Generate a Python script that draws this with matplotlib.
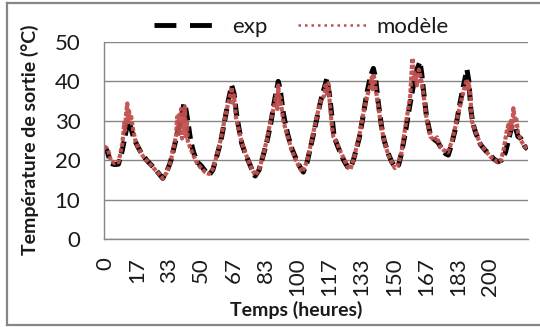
import matplotlib.pyplot as plt
from matplotlib.lines import Line2D

# --- Données ---
exp_t = [-0.5, 1, 3, 5, 7, 9, 11, 12, 13, 15, 17, 19, 22, 24, 26, 28, 30, 32, 34, 36,
         38, 40, 41, 42, 43, 44.5, 46, 48, 50, 52, 54, 56, 58, 60, 62, 64, 65.8, 67, 68.5, 70,
         71, 73, 75, 77, 78, 80, 82, 84, 86, 88, 90, 91, 92.6, 94, 95.2, 97, 99, 101, 103, 105,
         108, 110, 112, 114, 115.2, 116.5, 118, 119, 120.5, 122, 124, 126, 127.5, 129, 130, 132, 134, 136, 138, 139.4,
         140.5, 142, 143.5, 145, 147, 149, 151, 152.5, 154, 156, 158, 160, 162, 163.6, 164.5, 165.4, 167, 169,
         171, 173, 175, 177, 178.3, 180, 182, 184, 186, 188, 189, 190, 191, 192.5, 195, 197.5, 200, 202,
         204, 206, 208, 210, 211.5, 213, 214.5, 216, 218, 219.5]
exp_v = [23.4, 22.5, 19.2, 18.9, 19.0, 22.5, 27.5, 30.0, 29.0, 25.5, 23.5, 21.7, 19.8, 18.8, 17.8, 16.6, 15.4, 17.0, 19.5, 23.5,
         27.5, 31.5, 34.4, 33.0, 30.0, 25.0, 22.0, 19.5, 18.6, 17.3, 16.2, 17.5, 20.9, 24.5, 29.5, 35.0, 39.0, 37.0, 31.0, 27.0,
         24.3, 21.5, 19.2, 16.8, 16.0, 17.5, 20.9, 24.5, 29.0, 35.0, 40.0, 38.0, 32.0, 28.5, 26.0, 23.0, 20.6, 18.5, 17.0, 19.5,
         26.0, 30.5, 35.0, 38.5, 40.6, 37.0, 30.5, 26.0, 24.0, 22.2, 20.0, 18.3, 18.0, 20.0, 21.8, 25.5, 31.0, 37.0, 41.5, 43.3,
         41.0, 34.4, 29.0, 25.0, 21.8, 19.5, 18.2, 18.8, 21.8, 27.0, 33.0, 38.5, 43.0, 45.0, 42.0, 37.8, 31.0, 26.5,
         25.3, 24.5, 22.8, 21.6, 21.3, 24.0, 28.0, 33.5, 38.5, 43.0, 40.0, 33.0, 29.5, 27.0, 24.0, 22.5, 21.3, 20.3,
         19.6, 20.0, 22.0, 26.0, 29.0, 28.5, 26.0, 25.5, 23.5, 22.8]

mod_t = [-0.5, 1, 2, 3, 5, 7, 9, 10, 10.5, 11, 11.6, 12, 12.5, 13, 13.5, 14.5, 16, 18, 20, 23,
         26, 28, 30, 32, 34, 36, 37, 37.5, 38, 38.5, 39, 39.5, 40, 40.5, 41, 41.5, 42, 42.5, 43, 44,
         45.7, 48, 50, 52, 54, 56, 58, 60, 62, 64, 65, 65.8, 66.3, 67, 68, 70, 72, 74, 76, 78,
         80, 82, 84, 86, 88, 89, 89.5, 90, 90.5, 91, 92.6, 94, 95.2, 97, 99, 101, 102.5, 105, 108, 110,
         112, 114, 114.5, 115.2, 116, 117, 118, 118.6, 120.5, 122, 124, 126, 127.5, 129, 130, 132, 134, 136, 137.5, 138.5,
         139, 139.5, 140.5, 142, 143.5, 145, 147, 149, 150.5, 152, 154, 156, 157.5, 158.5, 159.4, 159.8, 160.3, 161, 162, 163,
         164, 165.4, 167, 169, 171, 172.5, 174, 176, 178, 180, 182, 184, 186, 187, 188, 188.5, 189, 189.8, 190.5, 191.5,
         193, 195, 197.5, 200, 202, 204, 205.5, 207, 208.5, 209.5, 210, 210.8, 211.5, 212.1, 212.8, 213.5, 214.5, 216, 218, 219.5]
mod_v = [23.5, 23.0, 22.0, 20.0, 19.2, 19.5, 24.0, 29.5, 27.5, 32.0, 34.4, 29.0, 32.5, 30.0, 31.5, 28.0, 24.5, 22.5, 20.8, 19.2,
         17.6, 16.6, 15.4, 16.8, 19.5, 24.0, 26.5, 31.0, 26.0, 32.0, 27.0, 33.0, 25.5, 32.0, 28.0, 33.5, 26.0, 30.0, 25.0, 23.5,
         21.5, 19.0, 18.0, 17.0, 16.5, 17.8, 21.0, 25.0, 30.0, 34.5, 36.5, 38.5, 34.0, 36.5, 31.0, 26.5, 23.0, 20.5, 18.0, 16.2,
         17.5, 21.0, 25.0, 30.0, 34.0, 36.5, 33.0, 39.0, 34.0, 36.0, 30.0, 27.5, 25.5, 22.5, 20.2, 18.2, 17.0, 19.8, 26.5, 31.0,
         35.0, 36.5, 39.0, 37.0, 39.5, 33.0, 28.0, 26.0, 24.5, 22.5, 20.5, 18.3, 17.7, 20.0, 22.0, 26.0, 31.5, 36.0, 38.5, 41.0,
         38.0, 42.0, 38.5, 33.5, 28.5, 25.0, 21.5, 19.5, 18.0, 18.5, 22.0, 28.5, 33.0, 36.0, 44.0, 45.9, 40.5, 42.0, 39.0, 43.0,
         41.0, 37.0, 30.5, 26.0, 25.0, 25.8, 23.5, 22.5, 22.0, 24.5, 28.5, 33.0, 37.0, 39.0, 40.5, 38.0, 39.5, 36.0, 30.0, 28.5,
         26.5, 24.0, 22.5, 21.0, 20.2, 19.5, 19.8, 22.5, 27.0, 29.0, 26.5, 30.0, 28.0, 33.2, 30.5, 31.0, 27.0, 25.0, 23.5, 23.0]

tick_pos = [k * 100 / 6 for k in range(13)]
tick_labels = ["0", "17", "33", "50", "67", "83", "100", "117", "133", "150", "167", "183", "200"]

plt.rcParams['font.family'] = ['Lato', 'DejaVu Sans']

fig = plt.figure(figsize=(5.4, 3.27), dpi=100)
ax = fig.add_axes([104 / 540, 88 / 327, 424 / 540, 197 / 327])

grey = "#868686"
red = "#C0504D"
txt = "#1a1a1a"

ax.plot(exp_t, exp_v, color="black", linestyle=(0, (2.5, 1.2)), linewidth=3.6, label="exp")
ax.plot(mod_t, mod_v, color=red, linestyle=(0, (1, 0.4)), linewidth=3.0, alpha=0.95, label="modèle")

ax.set_xlim(-0.5, 219.7)
ax.set_ylim(0, 50)
ax.set_yticks([0, 10, 20, 30, 40, 50])
ax.set_xticks(tick_pos)
ax.set_xticklabels(tick_labels, rotation=90)
ax.tick_params(axis="both", length=0, labelsize=16, colors=txt)
ax.tick_params(axis="x", pad=13)
ax.tick_params(axis="y", pad=17)

ax.grid(axis="y", color=grey, linewidth=1)
ax.set_axisbelow(True)
for s in ["top", "right"]:
    ax.spines[s].set_visible(False)
for s in ["left", "bottom"]:
    ax.spines[s].set_color(grey)
    ax.spines[s].set_linewidth(1)

fig.text(30 / 540, 1 - 140 / 327, "Température de sortie (°C)", rotation=90,
         ha="center", va="center", fontsize=14, fontweight="bold", color=txt)
fig.text(296 / 540, 1 - 310 / 327, "Temps (heures)",
         ha="center", va="center", fontsize=14, fontweight="bold", color=txt)

handles = [Line2D([], [], color="black", linestyle=(0, (4.5, 2.8)), linewidth=3.5),
           Line2D([], [], color=red, linestyle=(0, (1, 1.6)), linewidth=1.8)]
fig.legend(handles, ["exp", "modèle"], loc="center", bbox_to_anchor=(301 / 540, 1 - 27 / 327),
           ncol=2, frameon=False, fontsize=16, handlelength=3.2, handletextpad=0.3,
           columnspacing=1.4, borderpad=0, labelcolor=txt)

# cadre gris autour du graphique
frame = [Line2D([7 / 540, 7 / 540], [2 / 327, 324 / 327]),
         Line2D([7 / 540, 1], [324 / 327, 324 / 327]),
         Line2D([7 / 540, 1], [2 / 327, 2 / 327])]
for ln in frame:
    ln.set_color(grey)
    ln.set_linewidth(1.6)
    fig.add_artist(ln)

fig.savefig("out.png", dpi=100)
